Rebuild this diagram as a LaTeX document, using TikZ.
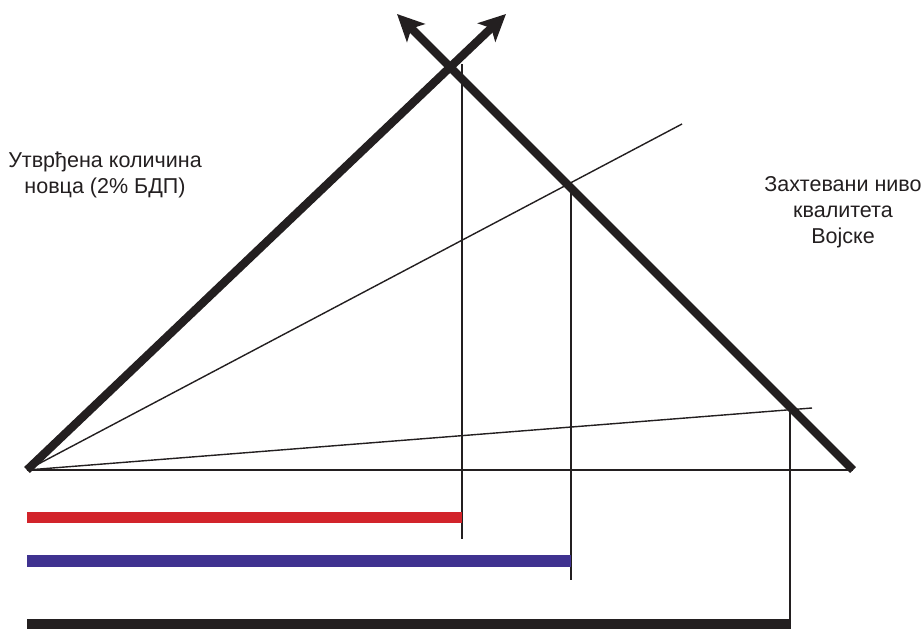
\documentclass[tikz,border=0pt]{standalone}
\usepackage{fontspec}
\setmainfont{Liberation Sans}
\usetikzlibrary{arrows.meta}
\definecolor{cInk}{HTML}{231F20}
\definecolor{cRed}{HTML}{D2232A}
\definecolor{cBlue}{HTML}{3F3290}

\begin{document}
\begin{tikzpicture}[
  x=0.025cm, y=-0.025cm,
  font=\fontsize{15.3}{18.5}\selectfont,
  thick line/.style={draw=cInk, line width=5.9pt},
  ray/.style={draw=cInk, line width=1.0pt},
  drop/.style={draw=cInk, line width=1.2pt},
  bar/.style={line width=8.3pt},
  tip/.style={-{Stealth[length=19pt, width=18pt, inset=4.5pt]}},
  lab/.style={align=center, text=cInk, inner sep=0pt},
]
\useasboundingbox (0,0) rectangle (924,629);
% ---------------------------------------------------------------- points
\coordinate (o) at (27,470);
\coordinate (e) at (853,470);
\coordinate (ltip) at (506,14);
\coordinate (rtip) at (397,14);
\coordinate (ray1) at (682,124);
\coordinate (ray2) at (812,408);
\coordinate (d1top) at (462,64);
\coordinate (d1bot) at (462,539);
\coordinate (d2top) at (571,184);
\coordinate (d2bot) at (571,580);
\coordinate (d3top) at (790,406);
\coordinate (d3bot) at (790,629);
\coordinate (r0) at (27,517.5);
\coordinate (r1) at (d1top |- r0);
\coordinate (b0) at (27,561);
\coordinate (b1) at (d2top |- b0);
\coordinate (k0) at (27,625);
\coordinate (k1) at (d3top |- k0);
% ---------------------------------------------------------------- labels
\node[lab] (money) at (105,175) {Утврђена количина\\новца (2\% БДП)};
\node[lab] (quality) at (843,212) {Захтевани ниво\\квалитета\\Војске};
% ---------------------------------------------------------------- rays
\draw[ray] (o) -- (e);
\draw[ray] (o) -- (ray1);
\draw[ray] (o) -- (ray2);
% ---------------------------------------------------------------- drops
\draw[drop] (d1top) -- (d1bot);
\draw[drop] (d2top) -- (d2bot);
\draw[drop] (d3top) -- (d3bot);
% ---------------------------------------------------------------- bars
\draw[bar, cRed] (r0) -- (r1);
\draw[bar, cBlue] (b0) -- (b1);
\draw[bar, cInk] (k0) -- (k1);
% ---------------------------------------------------------------- the two thick lines
\draw[thick line, tip] (o) -- (ltip);
\draw[thick line, tip] (e) -- (rtip);
\end{tikzpicture}
\end{document}
